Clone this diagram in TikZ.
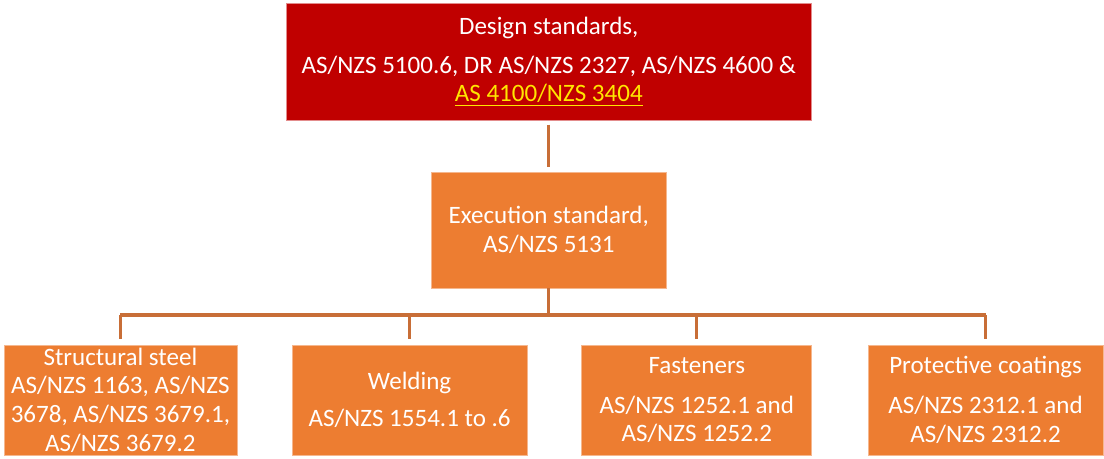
\documentclass[tikz,border=0pt]{standalone}
\usepackage{fontspec}
\setmainfont{Carlito}
\usepackage{xcolor}
\usepackage{tikz}

\definecolor{darkred}{RGB}{192,0,0}
\definecolor{stdorange}{RGB}{237,125,49}
\definecolor{linkbrown}{RGB}{200,110,55}
\definecolor{hiyellow}{RGB}{255,230,0}

\begin{document}
\begin{tikzpicture}[
    stdbox/.style={rectangle, fill=stdorange, draw=stdorange!55!white, line width=0.5pt,
      text=white, align=center, inner sep=0pt, minimum height=2.75cm,
      font=\fontsize{17.8}{20.4}\selectfont},
    link/.style={draw=linkbrown, line width=2.4pt}]
      \useasboundingbox (0,0) rectangle (27.6,11.45);
      \node[stdbox, fill=darkred, draw=darkred!45!white, minimum width=13.125cm, minimum height=2.925cm] (D) at (13.72,9.91)
        {Design standards,\\[7pt] AS/NZS 5100.6, DR AS/NZS 2327, AS/NZS 4600 \&\\ {\color{hiyellow}\underline{AS 4100/NZS 3404}}};
      \node[stdbox, minimum width=5.875cm, minimum height=2.9cm] (E) at (13.72,5.7) {Execution standard,\\ AS/NZS 5131};
      \node[stdbox, minimum width=5.825cm] (S) at (3.01,1.45) {Structural steel\\ AS/NZS 1163, AS/NZS\\ 3678, AS/NZS 3679.1,\\ AS/NZS 3679.2};
      \node[stdbox, minimum width=5.875cm] (W) at (10.24,1.45) {Welding\\[6pt] AS/NZS 1554.1 to .6};
      \node[stdbox, minimum width=5.75cm] (F) at (17.42,1.45) {Fasteners\\[8pt] AS/NZS 1252.1 and\\ AS/NZS 1252.2};
      \node[stdbox, minimum width=5.875cm] (P) at (24.64,1.45) {Protective coatings\\[8pt] AS/NZS 2312.1 and\\ AS/NZS 2312.2};
      \coordinate (bus) at (13.72,3.575);
      \draw[link, shorten <=3pt, shorten >=3pt] (D) -- (E);
      \draw[link] (E) -- (bus);
      \draw[link] (S.north |- bus) -- (P.north |- bus);
      \foreach \b in {S,W,F,P}
        \draw[link, shorten >=4pt] (\b.north |- bus) -- (\b);
    \end{tikzpicture}
\end{document}
